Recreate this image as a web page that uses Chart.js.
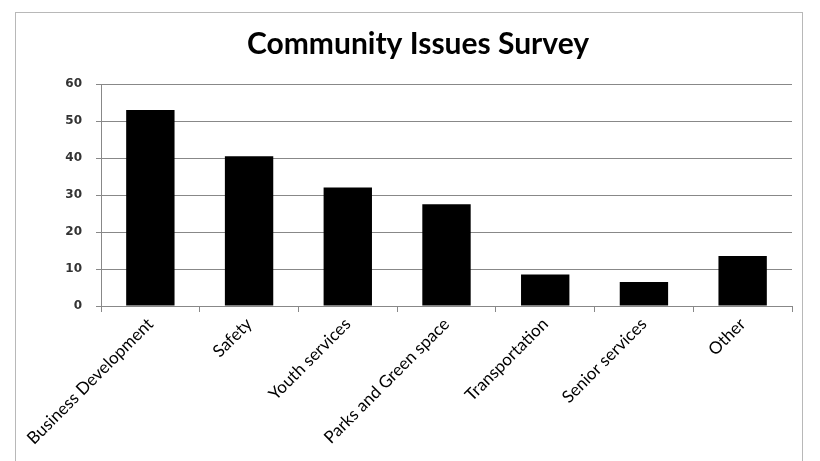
<!DOCTYPE html>
<html>
<head>
<meta charset="utf-8">
<script src="https://cdn.jsdelivr.net/npm/chart.js@4"></script>
<style>
  html, body { margin: 0; padding: 0; background: #ffffff; }
  #wrap { position: relative; width: 820px; height: 461px; }
  #frame { position: absolute; left: 15px; top: 12px; width: 788px; height: 460px;
           border: 1px solid #b8b8b8; border-bottom: none; box-sizing: border-box; }
  canvas { position: absolute; left: 0; top: 0; }
</style>
</head>
<body>
<div id="wrap">
  <div id="frame"></div>
  <canvas id="c" width="820" height="461"></canvas>
</div>
<script>
const categories = ["Business Development", "Safety", "Youth services", "Parks and Green space", "Transportation", "Senior services", "Other"];
const values = [53, 40.5, 32, 27.5, 8.5, 6.5, 13.5];
const yTicks = [0, 10, 20, 30, 40, 50, 60];

new Chart(document.getElementById('c'), {
  type: 'bar',
  data: {
    labels: categories,
    datasets: [{
      data: values,
      backgroundColor: '#000000',
      borderWidth: 0,
      categoryPercentage: 1.0,
      barPercentage: 0.49
    }]
  },
  options: {
    responsive: false,
    animation: false,
    layout: { padding: { left: 44, right: 28, top: 0, bottom: 0 } },
    plugins: {
      legend: { display: false },
      tooltip: { enabled: false },
      title: {
        display: true,
        text: 'Community Issues Survey',
        color: '#000000',
        font: { family: 'Lato', size: 30, weight: 'bold' },
        padding: { top: 26, bottom: 22 }
      }
    },
    scales: {
      x: {
        offset: true,
        grid: { display: true, offset: true, drawOnChartArea: false, drawTicks: true, tickLength: 6, color: '#888888' },
        border: { display: true, color: '#888888' },
        ticks: {
          color: '#000000',
          font: { family: 'Lato', size: 17 },
          maxRotation: 45, minRotation: 45,
          padding: 2
        },
        afterFit: (s) => { s.height = 155; }
      },
      y: {
        min: 0, max: 60,
        afterBuildTicks: (s) => { s.ticks = yTicks.map(v => ({ value: v })); },
        grid: { color: '#888888', drawTicks: true, tickLength: 5 },
        border: { display: true, color: '#888888' },
        ticks: {
          color: '#333333',
          font: { family: 'DejaVu Sans', size: 12, weight: 'bold' },
          padding: 14
        },
        afterFit: (s) => { s.width = 57; }
      }
    }
  }
});
</script>
</body>
</html>
